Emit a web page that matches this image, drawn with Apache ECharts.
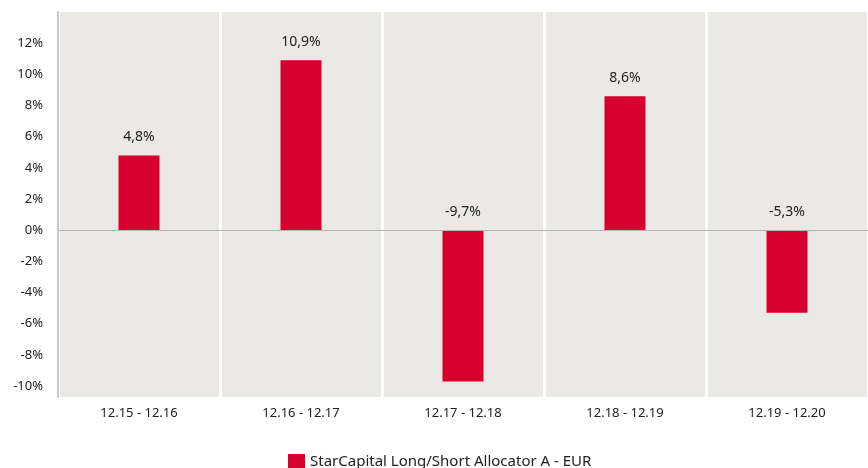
<!DOCTYPE html>
<html><head><meta charset="utf-8">
<script src="https://cdn.jsdelivr.net/npm/echarts@6/dist/echarts.min.js"></script>
<style>html,body{margin:0;padding:0;background:#fff}#c{width:868px;height:468px}</style>
</head><body><div id="c"></div>
<script>
var categories = ['12.15 - 12.16','12.16 - 12.17','12.17 - 12.18','12.18 - 12.19','12.19 - 12.20'];
var values = [4.8, 10.9, -9.7, 8.6, -5.3];
var tickLabels = [12,10,8,6,4,2,0,-2,-4,-6,-8,-10];
var seriesName = 'StarCapital Long/Short Allocator A - EUR';

var font = 'Noto Sans';
var chart = echarts.init(document.getElementById('c'));
chart.setOption({
  animation:false,
  textStyle:{fontFamily:font},
  grid:{left:58,right:0,top:12,bottom:71,backgroundColor:'#ebe9e5',show:true,borderWidth:0},
  legend:{bottom:-7,left:283,itemWidth:17,itemHeight:16,itemGap:9,icon:'rect',
    textStyle:{fontFamily:font,fontSize:15,color:'#222'},data:[seriesName]},
  xAxis:{type:'category',data:categories,
    axisLine:{show:false},axisTick:{show:false},
    axisLabel:{margin:10,fontSize:13,color:'#222',fontFamily:font},
    splitLine:{show:true,lineStyle:{color:'#ffffff',width:3}}},
  yAxis:{type:'value',min:-10.7,max:14,z:5,
    axisLine:{show:true,lineStyle:{color:'#c8c8c8',width:2}},
    axisTick:{show:false},splitLine:{show:false},
    axisLabel:{margin:15,fontSize:13,color:'#222',fontFamily:font,
      customValues:tickLabels,
      formatter:function(v){return v+'%';}}},
  series:[{name:seriesName,type:'bar',barWidth:41,
    itemStyle:{color:'#d7002f'},
    data:values,
    label:{show:true,position:'top',distance:11,fontSize:14,color:'#222',fontFamily:font,
      formatter:function(p){return String(p.value).replace('.',',')+'%';}},
    markLine:{silent:true,symbol:'none',label:{show:false},
      lineStyle:{color:'#b5b5b5',type:'solid',width:1},data:[{yAxis:0}]}
  }]
});
</script></body></html>
